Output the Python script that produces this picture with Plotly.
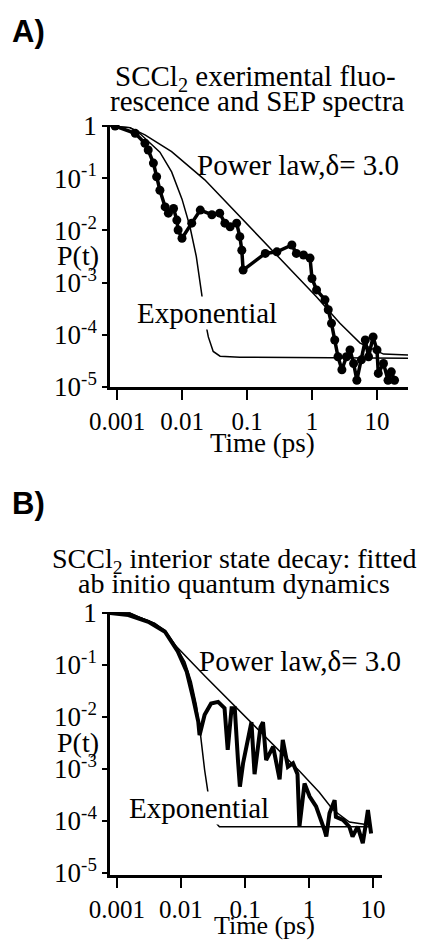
import plotly.graph_objects as go

# page pixel layout (the html body adds an 8px margin)
OFF = 8
W, H = 419, 933

# ---- Panel A: experimental fluorescence / SEP (t in ps, P(t)) ----
a_data_t = [0.000933, 0.001905, 0.00269, 0.00302, 0.00363, 0.00407, 0.00457, 0.0055, 0.00617,
            0.00741, 0.00832, 0.00871, 0.01, 0.0141, 0.0191, 0.0288, 0.038, 0.0457, 0.055, 0.0692,
            0.0776, 0.0832, 0.0871, 0.191, 0.288, 0.49, 0.575, 0.741, 0.933, 1.0, 1.175, 1.585,
            1.778, 1.995, 2.239, 2.512, 2.884, 3.388, 3.846, 4.365, 4.898, 5.754, 6.607, 7.413,
            8.71, 10.0, 10.47, 12.59, 14.79, 16.6, 18.62]
a_data_p = [1.0, 0.724, 0.468, 0.347, 0.195, 0.107, 0.0589, 0.0282, 0.0214,
            0.0263, 0.0158, 0.0102, 0.00708, 0.0138, 0.0245, 0.02, 0.0214, 0.0138, 0.0117, 0.0138,
            0.00759, 0.00417, 0.00174, 0.00363, 0.00389, 0.00525, 0.00363, 0.00339, 0.00295, 0.0012,
            0.000724, 0.000468, 0.000302, 0.000166, 7.94e-5, 3.8e-5, 2.14e-5, 3.8e-5, 5.13e-5,
            2.82e-5, 1.35e-5, 3.31e-5, 7.94e-5, 3.8e-5, 9.12e-5, 5.13e-5, 1.82e-5, 2.82e-5,
            1.35e-5, 1.95e-5, 1.35e-5]

a_power_t = [0.000776, 0.00158, 0.00269, 0.00692, 0.0224, 0.0741, 0.363, 1.17, 2.69, 5.5, 12.6, 32.4]
a_power_p = [1.0, 0.933, 0.676, 0.324, 0.0933, 0.0195, 0.00251, 0.000537, 0.000166, 6.92e-5, 4.27e-5, 4.07e-5]

a_exp_t = [0.000776, 0.00158, 0.00214, 0.00457, 0.00692, 0.01, 0.0132, 0.0166, 0.02, 0.0226,
           0.0254, 0.0302, 0.0385, 0.0776, 32.4]
a_exp_p = [1.0, 0.933, 0.759, 0.316, 0.132, 0.0398, 0.012, 0.00316, 0.000631, 0.000191,
           9.12e-5, 4.79e-5, 3.89e-5, 3.72e-5, 3.55e-5]

# ---- Panel B: ab initio interior state decay ----
b_data_t = [0.000776, 0.00151, 0.00309, 0.00562, 0.00891, 0.0123, 0.0155, 0.0186, 0.0195, 0.0234,
            0.0295, 0.038, 0.0479, 0.0537, 0.0617, 0.0692, 0.0776, 0.0832, 0.0933, 0.112, 0.126,
            0.141, 0.174, 0.191, 0.214, 0.275, 0.347, 0.389, 0.468, 0.562, 0.661, 0.708, 0.851,
            1.023, 1.288, 1.738, 1.862, 2.089, 2.512, 2.63, 3.388, 4.266, 4.786, 5.754, 6.918,
            7.762, 8.318, 9.333]
b_data_p = [1.0, 0.912, 0.676, 0.437, 0.182, 0.0741, 0.0229, 0.00813, 0.00447, 0.011,
            0.0182, 0.0195, 0.0148, 0.00234, 0.0148, 0.0148, 0.00148, 0.000457, 0.00129, 0.00363,
            0.00794, 0.000794, 0.00631, 0.00794, 0.00148, 0.00269, 0.000631, 0.00363, 0.0011,
            0.00129, 0.000794, 7.76e-5, 0.000525, 0.000295, 0.000191, 6.76e-5, 5.01e-5, 0.000141,
            0.000251, 0.00012, 0.000105, 7.76e-5, 5.01e-5, 7.76e-5, 3.72e-5, 9.12e-5, 0.000162,
            5.75e-5]

b_power_t = [0.000776, 0.00158, 0.00214, 0.00389, 0.00562, 0.00813, 0.024, 0.0794, 0.17, 0.708,
             1.445, 2.344, 4.266, 8.71]
b_power_p = [1.0, 1.0, 0.851, 0.631, 0.468, 0.24, 0.0603, 0.0135, 0.00525, 0.000912,
             0.000355, 0.000166, 9.55e-5, 8.32e-5]

b_exp_t = [0.000776, 0.00158, 0.00214, 0.00389, 0.00562, 0.00813, 0.0115, 0.0145, 0.0174, 0.02,
           0.0234, 0.0263, 0.0302, 0.0355, 0.0398, 8.71]
b_exp_p = [1.0, 1.0, 0.851, 0.631, 0.447, 0.24, 0.115, 0.0479, 0.017, 0.00501,
           0.000955, 0.000363, 0.000151, 9.12e-5, 7.76e-5, 7.76e-5]

x_tickvals = [0.001, 0.01, 0.1, 1, 10]
x_ticktext = ["0.001", "0.01", "0.1", "1", "10"]
y_tickvals = [1, 0.1, 0.01, 0.001, 0.0001, 0.00001]
y_ticktext = ["1", "10<sup>-1</sup>", "10<sup>-2</sup>", "10<sup>-3</sup>", "10<sup>-4</sup>", "10<sup>-5</sup>"]

SERIF = "Liberation Serif, Times New Roman, serif"
SANS = "Liberation Sans, Arial, sans-serif"


def px(x):
    return (x - OFF) / W


def py(y):
    return 1 - (y - OFF) / H


fig = go.Figure()

thin = dict(color="black", width=1.5)
for xa, ya, t, p in [("x", "y", a_power_t, a_power_p), ("x", "y", a_exp_t, a_exp_p),
                     ("x2", "y2", b_power_t, b_power_p), ("x2", "y2", b_exp_t, b_exp_p)]:
    fig.add_trace(go.Scatter(x=t, y=p, mode="lines", line=thin, xaxis=xa, yaxis=ya))

fig.add_trace(go.Scatter(x=a_data_t, y=a_data_p, mode="lines+markers",
                         line=dict(color="black", width=3.5),
                         marker=dict(color="black", size=9), xaxis="x", yaxis="y"))
fig.add_trace(go.Scatter(x=b_data_t, y=b_data_p, mode="lines",
                         line=dict(color="black", width=4), xaxis="x2", yaxis="y2"))

xcommon = dict(type="log", showline=True, linecolor="black", linewidth=2.5, ticks="outside",
               ticklen=10, tickwidth=2, tickcolor="black", showgrid=False, zeroline=False,
               automargin=False, tickvals=x_tickvals, ticktext=x_ticktext,
               tickfont=dict(family=SERIF, size=25, color="black"))
ycommon = dict(type="log", showline=True, linecolor="black", linewidth=2.5, ticks="outside",
               ticklen=5, tickwidth=2, tickcolor="black", showgrid=False, zeroline=False,
               automargin=False, tickvals=y_tickvals, ticktext=y_ticktext, ticklabelstandoff=0,
               tickfont=dict(family=SERIF, size=27, color="black"))

fig.update_layout(
    template="none",
    width=W, height=H, autosize=False,
    margin=dict(l=0, r=0, t=0, b=0),
    paper_bgcolor="white", plot_bgcolor="white",
    showlegend=False,
    xaxis=dict(xcommon, domain=[px(110), px(408)], range=[-3.108, 1.477], anchor="y"),
    yaxis=dict(ycommon, domain=[py(387), py(125)], range=[-5.0, 0.02], anchor="x"),
    xaxis2=dict(xcommon, domain=[px(110), px(382)], range=[-3.109, 1.14], anchor="y2"),
    yaxis2=dict(ycommon, domain=[py(875), py(612)], range=[-5.04, 0.02], anchor="x2"),
)


def label(text, x, y, size=29, xanchor="center", family=SERIF, bg=None):
    fig.add_annotation(text=text, x=px(x), y=py(y), xref="paper", yref="paper",
                       xanchor=xanchor, yanchor="middle", showarrow=False,
                       font=dict(family=family, size=size, color="black"),
                       bgcolor=bg, borderpad=0)


# panel letters
label("<b>A)</b>", 11, 32, size=31, xanchor="left", family=SANS)
label("<b>B)</b>", 11, 503, size=31, xanchor="left", family=SANS)

# panel A text
label("SCCl<sub>2</sub> exerimental fluo-", 256, 78)
label("rescence and SEP spectra", 257, 101)
label("Power law,\u03b4= 3.0", 298, 165)
label("Exponential", 207, 313, bg="white")
label("P(t)", 78, 256, size=28)
label("Time (ps)", 262, 443, size=27)

# panel B text
label("SCCl<sub>2</sub> interior state decay: fitted", 234, 560, size=28)
label("ab initio quantum dynamics", 234, 583, size=28)
label("Power law,\u03b4= 3.0", 300, 661)
label("Exponential", 199, 808, bg="white")
label("P(t)", 78, 742, size=28)
label("Time (ps)", 264, 925, size=26)

fig.write_html("out.html")
